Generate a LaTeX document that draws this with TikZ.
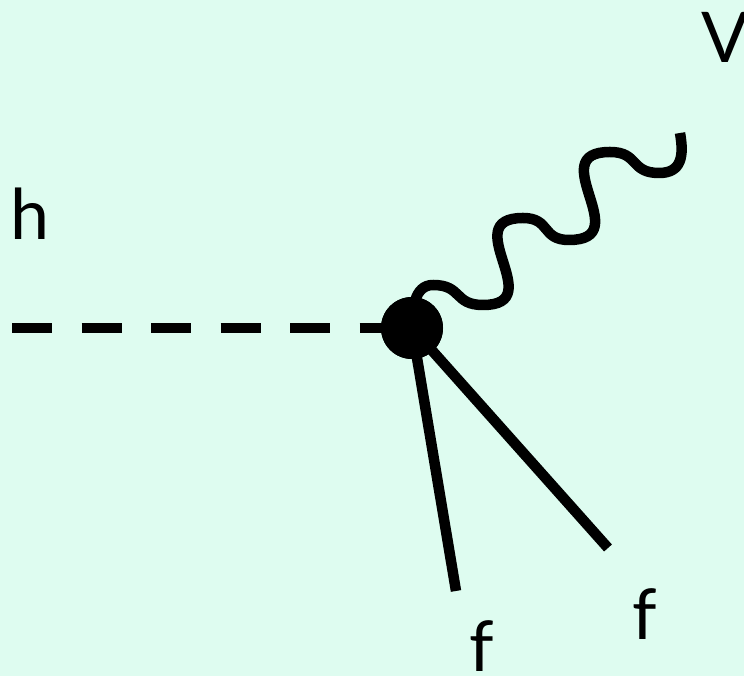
\documentclass[tikz,border=0pt]{standalone}
\usepackage{fontspec}
\setmainfont{Lato}
\definecolor{bgmint}{RGB}{222,252,240}
\definecolor{shadowc}{RGB}{150,175,165}
\begin{document}
\begin{tikzpicture}[x=1pt,y=1pt,
  lbl/.style={font=\fontsize{70}{70}\selectfont, inner sep=0pt, anchor=base west},
  prop/.style={line width=10.5pt, line cap=butt, black},
  scalarline/.style={prop, dash pattern=on 40pt off 29.5pt},
  wavy/.style={prop, line join=round},
  vertex/.style={circle, fill=black, minimum size=62pt, inner sep=0pt}]
\fill[bgmint] (0,0) rectangle (744,676);
\useasboundingbox (0,0) rectangle (744,676);
% coordinates
\coordinate (hs) at (12,348);
\coordinate (f1) at (456,85);
\coordinate (f2) at (608,128);
\coordinate (T1) at (433,391);
\coordinate (B1) at (483,371);
\coordinate (T2) at (523,458);
\coordinate (B2) at (569,436);
\coordinate (T3) at (610,524);
\coordinate (B3) at (659,503);
\coordinate (E) at (680,543);
\node[vertex] (v) at (412,348) {};
% lines
\draw[scalarline] (hs) -- (v.center);
\draw[prop] (v.center) -- (f1);
\draw[prop] (v.center) -- (f2);
\draw[wavy] (v.center) to[out=90,in=180] (T1)
  to[out=0,in=180,looseness=1.4] (B1)
  to[out=0,in=180,looseness=1.8] (T2)
  to[out=0,in=180,looseness=1.4] (B2)
  to[out=0,in=180,looseness=1.8] (T3)
  to[out=0,in=180,looseness=1.4] (B3)
  to[out=0,in=-80,looseness=1.3] (E);
\node[vertex] at (v) {};
% labels
\node[lbl] (lh) at (10,436) {h};
\node[lbl] (lV) at (701,613) {V};
\node[lbl] (lf1) at (469,4) {f};
\node[lbl] (lf2) at (632,36) {f};
\end{tikzpicture}
\end{document}
